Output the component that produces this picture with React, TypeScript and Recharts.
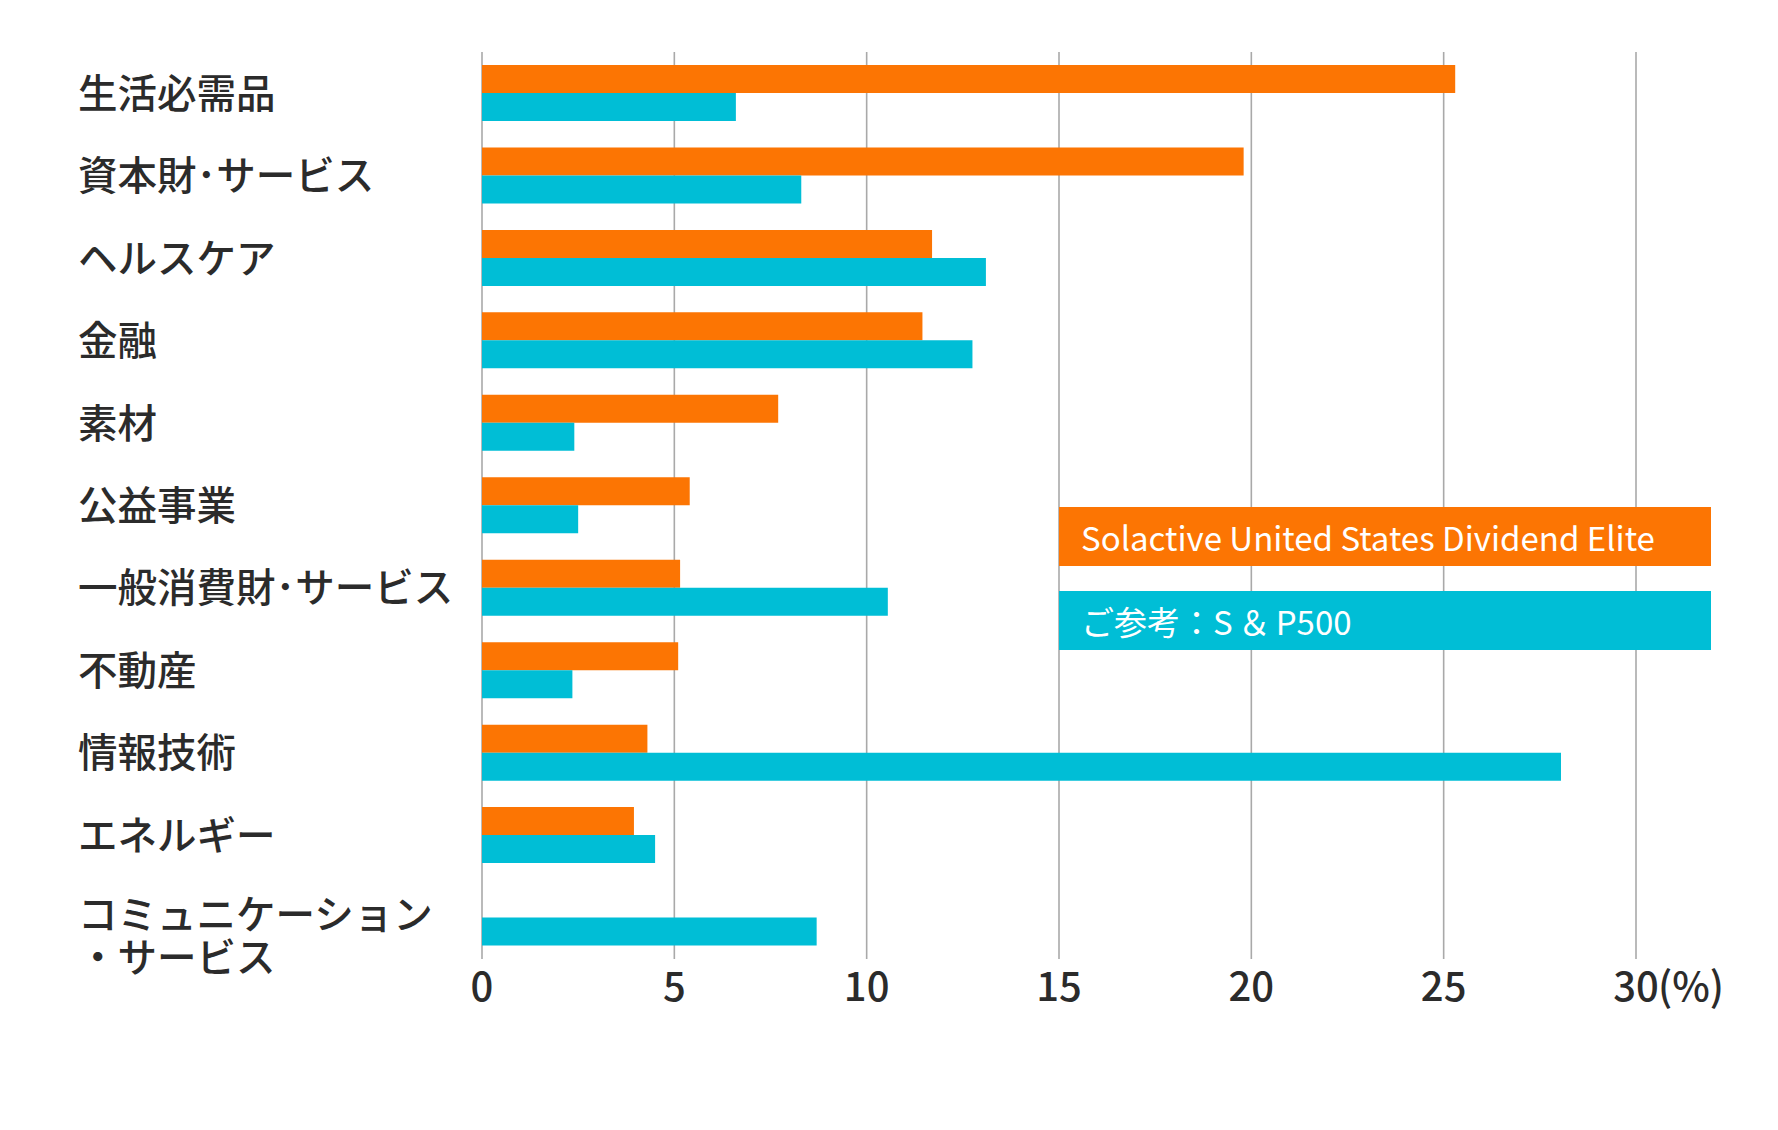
import React from 'react';
import { BarChart, Bar, XAxis, YAxis, CartesianGrid } from 'recharts';

const categories = [
  '生活必需品',
  '資本財･サービス',
  'ヘルスケア',
  '金融',
  '素材',
  '公益事業',
  '一般消費財･サービス',
  '不動産',
  '情報技術',
  'エネルギー',
  'コミュニケーション\n・サービス',
];
const eliteValues = [25.3, 19.8, 11.7, 11.45, 7.7, 5.4, 5.15, 5.1, 4.3, 3.95, 0];
const sp500Values = [6.6, 8.3, 13.1, 12.75, 2.4, 2.5, 10.55, 2.35, 28.05, 4.5, 8.7];
const xTicks = [0, 5, 10, 15, 20, 25, 30];
const seriesNames = ['Solactive United States Dividend Elite', 'ご参考：S＆P500'];

const ORANGE = '#fc7503';
const CYAN = '#00bed6';
const seriesColors = [ORANGE, CYAN];
const TEXT = '#2b2b2b';
const FONT = "'Noto Sans CJK JP', 'Noto Sans', sans-serif";

const data = categories.map((c, i) => ({ name: c, elite: eliteValues[i], sp: sp500Values[i] }));

const YTick = (props: any) => {
  const { y, payload } = props;
  const lines = String(payload.value).split('\n');
  if (lines.length === 1) {
    return (
      <text x={78} y={y - 3} dominantBaseline="central" fontSize={39.5} fontWeight={500} fill={TEXT} fontFamily={FONT}>
        {lines[0]}
      </text>
    );
  }
  return (
    <g>
      {lines.map((l, i) => (
        <text key={i} x={78} y={y - 6 + i * 43} dominantBaseline="central" fontSize={39.5} fontWeight={500} fill={TEXT} fontFamily={FONT}>
          {l}
        </text>
      ))}
    </g>
  );
};

const XTick = (props: any) => {
  const { x, y, payload } = props;
  const v = payload.value;
  return (
    <g>
      <text x={x} y={y + 17} textAnchor="middle" dominantBaseline="central" fontSize={40} fontWeight={500} fill={TEXT} fontFamily={FONT}>
        {String(v)}
      </text>
      {v === 30 ? (
        <text x={x + 22} y={y + 17} textAnchor="start" dominantBaseline="central" fontSize={40} fontWeight={500} fill={TEXT} fontFamily={FONT}>
          (%)
        </text>
      ) : null}
    </g>
  );
};

const renderName = (n: string) => {
  const parts = n.split('＆');
  if (parts.length < 2) return n;
  return (
    <>
      {parts[0]}
      <span style={{ margin: '0 5px' }}>＆</span>
      {parts.slice(1).join('＆')}
    </>
  );
};

function LegendBox() {
  return (
    <div style={{ position: 'absolute', left: 1059, top: 507, display: 'flex', flexDirection: 'column', gap: 25 }}>
      {seriesNames.map((n, i) => (
        <div
          key={i}
          style={{
            background: seriesColors[i],
            height: 59,
            width: 652,
            display: 'flex',
            alignItems: 'center',
            paddingLeft: 22,
            boxSizing: 'border-box',
            color: '#fff',
            fontSize: 33,
            fontFamily: FONT,
            whiteSpace: 'pre',
          }}
        >
          {renderName(n)}
        </div>
      ))}
    </div>
  );
}

export default function App() {
  return (
    <div style={{ position: 'absolute', left: 0, top: 0, width: 1778, height: 1130, background: '#fff' }}>
      <BarChart
        width={1778}
        height={1130}
        data={data}
        layout="vertical"
        margin={{ top: 52, right: 142, bottom: 111, left: 0 }}
        barGap={0}
        barSize={28}
      >
        <CartesianGrid horizontal={false} vertical={true} stroke="#a9a9a9" strokeWidth={1.6} />
        <XAxis
          type="number"
          domain={[0, 30]}
          ticks={xTicks}
          axisLine={false}
          tickLine={false}
          tick={<XTick />}
          interval={0}
          height={60}
        />
        <YAxis
          type="category"
          dataKey="name"
          width={482}
          axisLine={false}
          tickLine={false}
          tick={<YTick />}
          interval={0}
        />
        <Bar dataKey="elite" name={seriesNames[0]} fill={seriesColors[0]} isAnimationActive={false} />
        <Bar dataKey="sp" name={seriesNames[1]} fill={seriesColors[1]} isAnimationActive={false} />
      </BarChart>
      <LegendBox />
    </div>
  );
}
